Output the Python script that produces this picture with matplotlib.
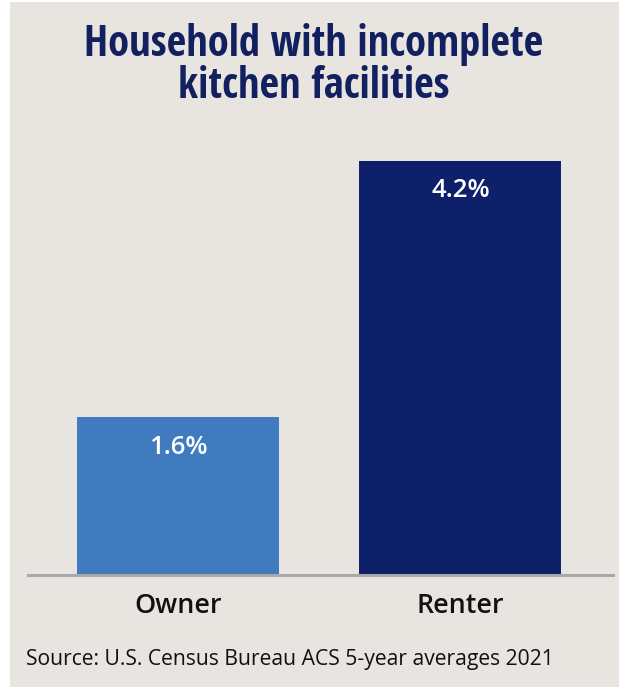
import matplotlib.pyplot as plt
from matplotlib.patches import Rectangle

categories = ['Owner', 'Renter']
values = [1.6, 4.2]
value_labels = ['1.6%', '4.2%']
bar_colors = ['#3F7BBE', '#0F206B']

title_lines = ['Household with incomplete', 'kitchen facilities']
source = 'Source: U.S. Census Bureau ACS 5-year averages 2021'

bg = '#E8E5E0'
W, H = 625, 687
fig = plt.figure(figsize=(W / 100, H / 100), dpi=100)
fig.patch.set_facecolor('white')
fig.patches.append(Rectangle((10 / W, 0), 609 / W, (H - 2) / H,
                             transform=fig.transFigure, facecolor=bg,
                             edgecolor='none', zorder=-5))

ax = fig.add_axes([28 / W, (H - 575) / H, 585 / W, (575 - 140) / H])
ax.set_zorder(2)
ax.set_facecolor('none')
x = range(len(categories))
bars = ax.bar(x, values, width=0.715, color=bar_colors, zorder=2)
ax.set_xlim(-0.531, 1.540)
ax.set_ylim(0, 4.41)

for b, lab in zip(bars, value_labels):
    ax.annotate(lab, (b.get_x() + b.get_width() / 2, b.get_height()),
                xytext=(0, -30), textcoords='offset pixels',
                ha='center', va='center', color='white',
                fontsize=18.5, fontweight='semibold', family='Open Sans')

for s in ['top', 'right', 'left']:
    ax.spines[s].set_visible(False)
ax.spines['bottom'].set_color('#A8A8A8')
ax.spines['bottom'].set_linewidth(2.2)
ax.set_yticks([])
ax.set_xticks(list(x))
ax.set_xticklabels(categories, fontsize=19.4, fontweight='semibold',
                   family='Open Sans', color='#111111')
ax.tick_params(axis='x', length=0, pad=12)

for i, line in enumerate(title_lines):
    fig.text(314 / W, 1 - (44 + 43 * i) / H, line, ha='center', va='center',
             fontsize=30.7, fontweight='bold', family='Open Sans Condensed',
             color='#13205F')

fig.text(26 / W, 1 - 660 / H, source, ha='left', va='center',
         fontsize=15.25, family='Open Sans', color='#111111')

fig.savefig('out.png', dpi=100, facecolor=fig.get_facecolor())
